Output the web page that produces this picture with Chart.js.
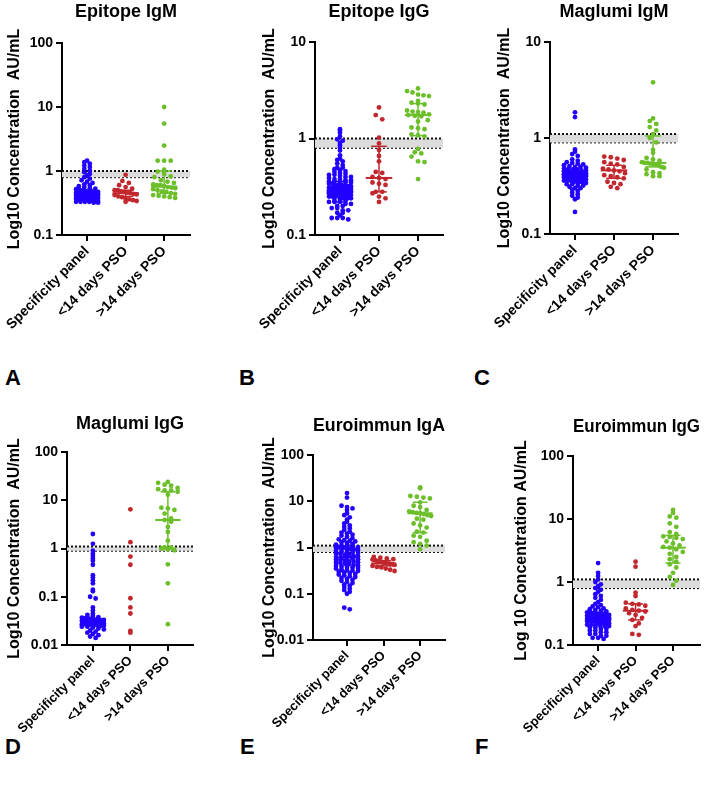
<!doctype html>
<html lang="en">
<head>
<meta charset="utf-8">
<title>Serology panels</title>
<script src="https://cdn.jsdelivr.net/npm/chart.js@4.4.1/dist/chart.umd.min.js"></script>
<style>
  *{box-sizing:border-box;margin:0;padding:0}
  body{background:#fff;width:705px;height:787px;overflow:hidden;font-family:"Liberation Sans",Arial,sans-serif}
  #fig{position:relative;width:705px;height:787px}
  canvas{position:absolute}
  .tag{position:absolute;font-weight:bold;font-size:22px;line-height:22px;color:#000}
</style>
</head>
<body>
<div id="fig">
  <div class="tag" style="left:5px;top:367px">A</div>
  <div class="tag" style="left:239px;top:367px">B</div>
  <div class="tag" style="left:474px;top:367px">C</div>
  <div class="tag" style="left:5px;top:736px">D</div>
  <div class="tag" style="left:240px;top:736px">E</div>
  <div class="tag" style="left:475px;top:736px">F</div>
</div>
<script>
// ---- data ----
const categories = ['Specificity panel', '<14 days PSO', '>14 days PSO'];

// A: Epitope IgM
const epiIgM_spec = [1.45,1.38,1.3,1.22,1.15,1.08,1.02,0.96,0.9,0.85,0.8,0.76,0.72,0.68,0.65,0.62,0.6,0.58,0.56,0.54,0.53,0.52,0.51,0.5,0.49,0.48,0.48,0.47,0.47,0.46,0.46,0.45,0.45,0.45,0.44,0.44,0.44,0.43,0.43,0.43,0.42,0.42,0.42,0.42,0.41,0.41,0.41,0.41,0.4,0.4,0.4,0.4,0.4,0.39,0.39,0.39,0.39,0.39,0.38,0.38,0.38,0.38,0.38,0.37,0.37,0.37,0.37,0.37,0.36,0.36,0.36,0.36,0.36,0.35,0.35,0.35,0.35,0.35,0.34,0.34,0.34,0.34,0.33,0.33,0.33,0.33,0.32,0.32];
const epiIgM_early = [0.87,0.7,0.65,0.6,0.56,0.53,0.5,0.5,0.48,0.47,0.46,0.45,0.44,0.43,0.42,0.4,0.39,0.37,0.36,0.35,0.34,0.33];
const epiIgM_late = [10,5.5,2.5,1.45,1.45,1.45,1.05,0.98,0.9,0.82,0.8,0.72,0.68,0.65,0.62,0.6,0.6,0.58,0.56,0.55,0.54,0.52,0.5,0.48,0.47,0.45,0.44,0.42,0.41,0.4,0.39,0.38];
const epiIgM_med = [0.40, 0.45, 0.57], epiIgM_q1 = [0.37, 0.40, 0.45], epiIgM_q3 = [0.45, 0.50, 1.0];

// B: Epitope IgG
const epiIgG_spec = [1.25,1.2,1.15,1.05,0.98,0.95,0.9,0.85,0.8,0.75,0.67,0.62,0.6,0.58,0.55,0.53,0.5,0.5,0.48,0.47,0.46,0.45,0.44,0.43,0.42,0.42,0.41,0.4,0.4,0.39,0.38,0.38,0.37,0.37,0.36,0.36,0.35,0.35,0.35,0.34,0.34,0.33,0.33,0.33,0.32,0.32,0.32,0.31,0.31,0.31,0.3,0.3,0.3,0.3,0.29,0.29,0.29,0.29,0.28,0.28,0.28,0.28,0.27,0.27,0.27,0.27,0.26,0.26,0.26,0.26,0.25,0.25,0.25,0.25,0.24,0.24,0.24,0.24,0.23,0.23,0.23,0.22,0.22,0.22,0.21,0.21,0.2,0.2,0.19,0.19,0.18,0.18,0.17,0.17,0.16,0.15,0.15,0.15,0.145];
const epiIgG_early = [2.1,1.75,1.58,1.02,0.89,0.76,0.66,0.58,0.45,0.44,0.4,0.39,0.38,0.35,0.34,0.33,0.28,0.28,0.27,0.25,0.24,0.22];
const epiIgG_late = [3.3,3.1,3.0,2.85,2.8,2.75,2.45,2.35,2.3,2.25,1.95,1.9,1.88,1.85,1.78,1.75,1.72,1.7,1.55,1.5,1.3,1.28,1.25,1.1,1.08,1.05,0.78,0.72,0.7,0.65,0.58,0.57,0.38];
const epiIgG_med = [0.28, 0.39, 1.75], epiIgG_q1 = [0.22, 0.28, 1.07], epiIgG_q3 = [0.36, 0.83, 2.3];

// C: Maglumi IgM
const magIgM_spec = [1.85,1.65,0.76,0.72,0.68,0.65,0.6,0.58,0.56,0.55,0.54,0.53,0.52,0.51,0.5,0.5,0.49,0.48,0.48,0.47,0.47,0.46,0.46,0.45,0.45,0.45,0.44,0.44,0.44,0.43,0.43,0.43,0.43,0.42,0.42,0.42,0.42,0.41,0.41,0.41,0.41,0.41,0.4,0.4,0.4,0.4,0.4,0.39,0.39,0.39,0.39,0.38,0.38,0.38,0.38,0.37,0.37,0.37,0.36,0.36,0.36,0.35,0.35,0.35,0.34,0.34,0.33,0.33,0.32,0.32,0.31,0.3,0.3,0.29,0.28,0.27,0.26,0.25,0.24,0.23,0.17];
const magIgM_early = [0.64,0.63,0.61,0.59,0.56,0.54,0.53,0.5,0.48,0.47,0.46,0.45,0.43,0.41,0.4,0.39,0.38,0.35,0.34,0.33,0.31,0.3];
const magIgM_late = [3.8,1.6,1.5,1.4,1.3,1.2,1.1,1.0,0.9,0.75,0.7,0.62,0.6,0.58,0.56,0.55,0.55,0.54,0.54,0.53,0.52,0.5,0.49,0.47,0.44,0.43,0.42,0.4,0.4];
const magIgM_med = [0.41, 0.46, 0.55], magIgM_q1 = [0.37, 0.38, 0.50], magIgM_q3 = [0.45, 0.52, 1.05];

// D: Maglumi IgG
const magIgG_spec = [2.0,1.25,0.9,0.78,0.7,0.62,0.56,0.46,0.28,0.25,0.22,0.19,0.14,0.13,0.1,0.092,0.06,0.052,0.045,0.042,0.04,0.038,0.037,0.036,0.035,0.034,0.034,0.033,0.033,0.032,0.032,0.031,0.031,0.031,0.03,0.03,0.03,0.03,0.03,0.029,0.029,0.029,0.029,0.028,0.028,0.028,0.028,0.027,0.027,0.027,0.026,0.026,0.026,0.025,0.025,0.024,0.024,0.023,0.022,0.021,0.02,0.019,0.018,0.017,0.016,0.015,0.014];
const magIgG_early = [6.5,1.35,0.68,0.46,0.093,0.06,0.045,0.0195,0.018];
const magIgG_late = [24,23,21,20,18,17,16,16,15,13,7,6.8,6.3,5.3,4.2,3.9,3.6,2.8,2.2,1.45,1.05,1.05,1.0,0.95,0.92,0.47,0.19,0.027];
const magIgG_med = [0.03, null, 3.9], magIgG_q1 = [0.026, null, 1.0], magIgG_q3 = [0.035, null, 15];

// E: Euroimmun IgA
const euroIgA_spec = [15,12,8,7.5,7,6.5,5.5,5,4.5,4,3.6,3.3,3.0,2.8,2.6,2.4,2.2,2.1,2.0,1.9,1.8,1.7,1.6,1.5,1.45,1.4,1.35,1.3,1.25,1.2,1.15,1.1,1.08,1.05,1.02,1.0,1.0,0.98,0.95,0.92,0.9,0.88,0.85,0.82,0.8,0.78,0.76,0.74,0.72,0.7,0.68,0.66,0.64,0.62,0.6,0.6,0.58,0.56,0.55,0.54,0.52,0.5,0.5,0.48,0.47,0.46,0.45,0.44,0.42,0.41,0.4,0.39,0.38,0.37,0.36,0.35,0.34,0.33,0.32,0.31,0.3,0.29,0.28,0.27,0.26,0.25,0.24,0.23,0.22,0.21,0.2,0.19,0.18,0.17,0.16,0.15,0.14,0.13,0.12,0.11,0.1,0.05,0.046];
const euroIgA_early = [0.63,0.6,0.58,0.56,0.55,0.53,0.52,0.5,0.49,0.48,0.47,0.46,0.45,0.44,0.43,0.42,0.4,0.38,0.37,0.35,0.33,0.31];
const euroIgA_late = [20,19,13,12.5,12,11.5,9.5,8,7.5,6.5,6,5.8,5.6,5.5,5.3,5.0,4.8,4.2,4,3.3,3.0,2.7,2.2,2.1,1.8,1.7,1.4,1.3,1.2,1.1,0.92];
const euroIgA_med = [0.61, 0.45, 5.5], euroIgA_q1 = [0.3, 0.4, 2.1], euroIgA_q3 = [1.1, 0.52, 9.5];

// F: Euroimmun IgG
const euroIgG_spec = [2.0,1.4,1.25,1.1,1.0,0.92,0.86,0.8,0.75,0.7,0.64,0.6,0.56,0.52,0.48,0.45,0.43,0.41,0.4,0.38,0.37,0.36,0.35,0.34,0.33,0.33,0.32,0.32,0.31,0.31,0.3,0.3,0.3,0.29,0.29,0.29,0.28,0.28,0.28,0.28,0.27,0.27,0.27,0.27,0.26,0.26,0.26,0.26,0.25,0.25,0.25,0.25,0.24,0.24,0.24,0.24,0.23,0.23,0.23,0.23,0.22,0.22,0.22,0.21,0.21,0.21,0.2,0.2,0.2,0.19,0.19,0.18,0.18,0.17,0.17,0.16,0.16,0.15,0.15,0.14,0.14,0.13,0.13,0.125];
const euroIgG_early = [2.1,1.75,0.68,0.6,0.47,0.45,0.44,0.42,0.38,0.36,0.35,0.34,0.32,0.3,0.27,0.25,0.22,0.2,0.15,0.145];
const euroIgG_late = [14,12.5,11,10.5,8.5,7.5,6.2,5.8,5.3,5.2,5.0,4.8,4.4,4.1,3.8,3.6,3.5,3.3,3.0,2.8,2.5,2.3,2.1,1.9,1.7,1.4,1.2,1.05,0.9];
const euroIgG_med = [0.25, 0.35, 3.5], euroIgG_q1 = [0.21, 0.25, 2.0], euroIgG_q3 = [0.33, 0.45, 5.5];

// cut-off zones (lower, upper)
const cutoffs = [[0.8, 1.0], [0.8, 1.0], [0.9, 1.1], [0.9, 1.1], [0.8, 1.1], [0.8, 1.1]];
const titles = ['Epitope IgM', 'Epitope IgG', 'Maglumi IgM', 'Maglumi IgG', 'Euroimmun IgA', 'Euroimmun IgG'];
const yTitles = ['Log10 Concentration  AU/mL', 'Log10 Concentration  AU/mL', 'Log10 Concentration  AU/mL',
                 'Log10 Concentration  AU/mL', 'Log10 Concentration  AU/mL', 'Log 10 Concentration AU/mL'];
const yRanges = [[0.1, 100], [0.1, 10], [0.1, 10], [0.01, 100], [0.01, 100], [0.1, 100]];

// ---- layout / style ----
const COLORS = ['#2200ff', '#c1272d', '#6cbf2a'];
const FONT = '"Liberation Sans", Arial, sans-serif';
const RIGHT_PAD = 6, X_AXIS_H = 120, TITLE_LH = 18 * 1.2;
const layout = [
  {cl: 0,   ct: 0,   yW: 62, pw: 128, T: 43,  B: 235, pt: 1,  xr: [-0.65, 2.67], lab: 14},
  {cl: 255, ct: 0,   yW: 60, pw: 128, T: 42,  B: 235, pt: 1,  xr: [-0.64, 2.64], lab: 14},
  {cl: 490, ct: 0,   yW: 60, pw: 128, T: 42,  B: 234, pt: 1,  xr: [-0.64, 2.64], lab: 14},
  {cl: 0,   ct: 400, yW: 67, pw: 126, T: 452, B: 645, pt: 13, xr: [-0.69, 2.67], lab: 13},
  {cl: 255, ct: 400, yW: 58, pw: 132, T: 455, B: 640, pt: 15, xr: [-0.93, 2.68], lab: 13},
  {cl: 507, ct: 400, yW: 66, pw: 127, T: 456, B: 645, pt: 16, xr: [-0.67, 2.72], lab: 13}
];
// row height / spacing of the dot spread for specificity vs patient groups
const SPREAD = [{binH: 3, sp: 5.5}, {binH: 6, sp: 6.5}, {binH: 6, sp: 6.5}];

const groups = [
  [epiIgM_spec, epiIgM_early, epiIgM_late, epiIgM_med, epiIgM_q1, epiIgM_q3],
  [epiIgG_spec, epiIgG_early, epiIgG_late, epiIgG_med, epiIgG_q1, epiIgG_q3],
  [magIgM_spec, magIgM_early, magIgM_late, magIgM_med, magIgM_q1, magIgM_q3],
  [magIgG_spec, magIgG_early, magIgG_late, magIgG_med, magIgG_q1, magIgG_q3],
  [euroIgA_spec, euroIgA_early, euroIgA_late, euroIgA_med, euroIgA_q1, euroIgA_q3],
  [euroIgG_spec, euroIgG_early, euroIgG_late, euroIgG_med, euroIgG_q1, euroIgG_q3]
];

// Prism-like row spread: values falling in the same pixel row sit side by side
function swarm(vals, pxDec, maxOff, binH, sp0){
  const rows = new Map();
  vals.forEach((v, i) => {
    const b = Math.floor(-Math.log10(v) * pxDec / binH);
    if (!rows.has(b)) rows.set(b, []);
    rows.get(b).push(i);
  });
  const off = new Array(vals.length).fill(0);
  rows.forEach(items => {
    const k = items.length;
    const sp = k > 1 ? Math.min(sp0, 2 * maxOff / (k - 1)) : 0;
    items.forEach((i, j) => { off[i] = (j - (k - 1) / 2) * sp; });
  });
  return off;
}

const seg = (x0, x1, y0, y1, color, w) => ({
  type: 'line', showLine: true, data: [{x: x0, y: y0}, {x: x1, y: y1}],
  borderColor: color, borderWidth: w, pointRadius: 0, pointHoverRadius: 0, fill: false, order: 0
});

function buildPanel(p){
  const L = layout[p];
  const [yMin, yMax] = yRanges[p];
  const ph = L.B - L.T;
  const pxDec = ph / Math.log10(yMax / yMin);
  const pxX = L.pw / (L.xr[1] - L.xr[0]);
  const [g0, g1, g2, med, q1, q3] = groups[p];
  const [lo, hi] = cutoffs[p];

  const datasets = [];
  // cut-off band
  datasets.push({type: 'line', showLine: true, data: [{x: L.xr[0], y: hi}, {x: L.xr[1], y: hi}],
    borderColor: '#111', borderWidth: 2, borderDash: [2, 2], pointRadius: 0, fill: '+1',
    backgroundColor: '#dcdcdc', order: 5});
  datasets.push({type: 'line', showLine: true, data: [{x: L.xr[0], y: lo}, {x: L.xr[1], y: lo}],
    borderColor: '#111', borderWidth: 2, borderDash: [2, 2], pointRadius: 0, fill: false, order: 5});

  [g0, g1, g2].forEach((vals, gi) => {
    const off = swarm(vals, pxDec, 11, SPREAD[gi].binH, SPREAD[gi].sp);
    datasets.push({
      data: vals.map((v, i) => ({x: gi + off[i] / pxX, y: v})),
      pointRadius: 2.4, pointBorderWidth: 0, pointBackgroundColor: COLORS[gi],
      pointHoverRadius: 2.4, order: 1
    });
    if (med[gi] != null) {
      const c = COLORS[gi];
      datasets.push(seg(gi - 0.34, gi + 0.34, med[gi], med[gi], c, 2));
      datasets.push(seg(gi, gi, q1[gi], q3[gi], c, 1.5));
      datasets.push(seg(gi - 0.2, gi + 0.2, q1[gi], q1[gi], c, 1.5));
      datasets.push(seg(gi - 0.2, gi + 0.2, q3[gi], q3[gi], c, 1.5));
    }
  });

  const cv = document.createElement('canvas');
  const w = L.yW + L.pw + RIGHT_PAD, h = (L.B - L.ct) + X_AXIS_H;
  cv.width = w; cv.height = h;
  cv.style.left = L.cl + 'px'; cv.style.top = L.ct + 'px';
  cv.style.width = w + 'px'; cv.style.height = h + 'px';
  document.getElementById('fig').appendChild(cv);

  const pb = L.T - L.ct - L.pt - TITLE_LH;
  const decades = [];
  for (let v = yMin; v <= yMax * 1.0001; v *= 10) decades.push(+v.toPrecision(1));

  new Chart(cv.getContext('2d'), {
    type: 'scatter',
    data: {datasets},
    options: {
      responsive: false, animation: false,
      layout: {padding: {left: 0, right: RIGHT_PAD, top: 0, bottom: 0}},
      plugins: {
        legend: {display: false}, tooltip: {enabled: false},
        title: {display: true, text: titles[p], color: '#000', fullSize: false,
          font: {family: FONT, size: 18, weight: 'bold'}, padding: {top: L.pt, bottom: pb}}
      },
      scales: {
        x: {
          type: 'linear', min: L.xr[0], max: L.xr[1],
          afterBuildTicks: s => { s.ticks = [0, 1, 2].map(v => ({value: v})); },
          afterFit: s => { s.height = X_AXIS_H; s.paddingLeft = 0; s.paddingRight = 0; },
          border: {display: true, color: '#000', width: 2},
          grid: {display: true, drawOnChartArea: false, drawTicks: true, tickLength: 6, color: '#000', lineWidth: 2},
          ticks: {autoSkip: false, minRotation: 45, maxRotation: 45, padding: 2, color: '#000',
            font: {family: FONT, size: L.lab, weight: 'bold'},
            callback: v => categories[v]}
        },
        y: {
          type: 'logarithmic', min: yMin, max: yMax,
          afterBuildTicks: s => { s.ticks = decades.map(v => ({value: v, major: true})); },
          afterFit: s => { s.width = L.yW; s.paddingTop = 0; s.paddingBottom = 0; },
          border: {display: true, color: '#000', width: 2},
          grid: {display: true, drawOnChartArea: false, drawTicks: true, tickLength: 6, color: '#000', lineWidth: 2},
          ticks: {padding: 3, color: '#000', font: {family: FONT, size: 14, weight: 'bold'},
            callback: v => String(v)},
          title: {display: true, text: yTitles[p], color: '#000',
            font: {family: FONT, size: 16, weight: 'bold'}, padding: {top: 5, bottom: 0}}
        }
      }
    }
  });
}

document.addEventListener('DOMContentLoaded', () => {
  for (let p = 0; p < 6; p++) buildPanel(p);
});
</script>
</body>
</html>
